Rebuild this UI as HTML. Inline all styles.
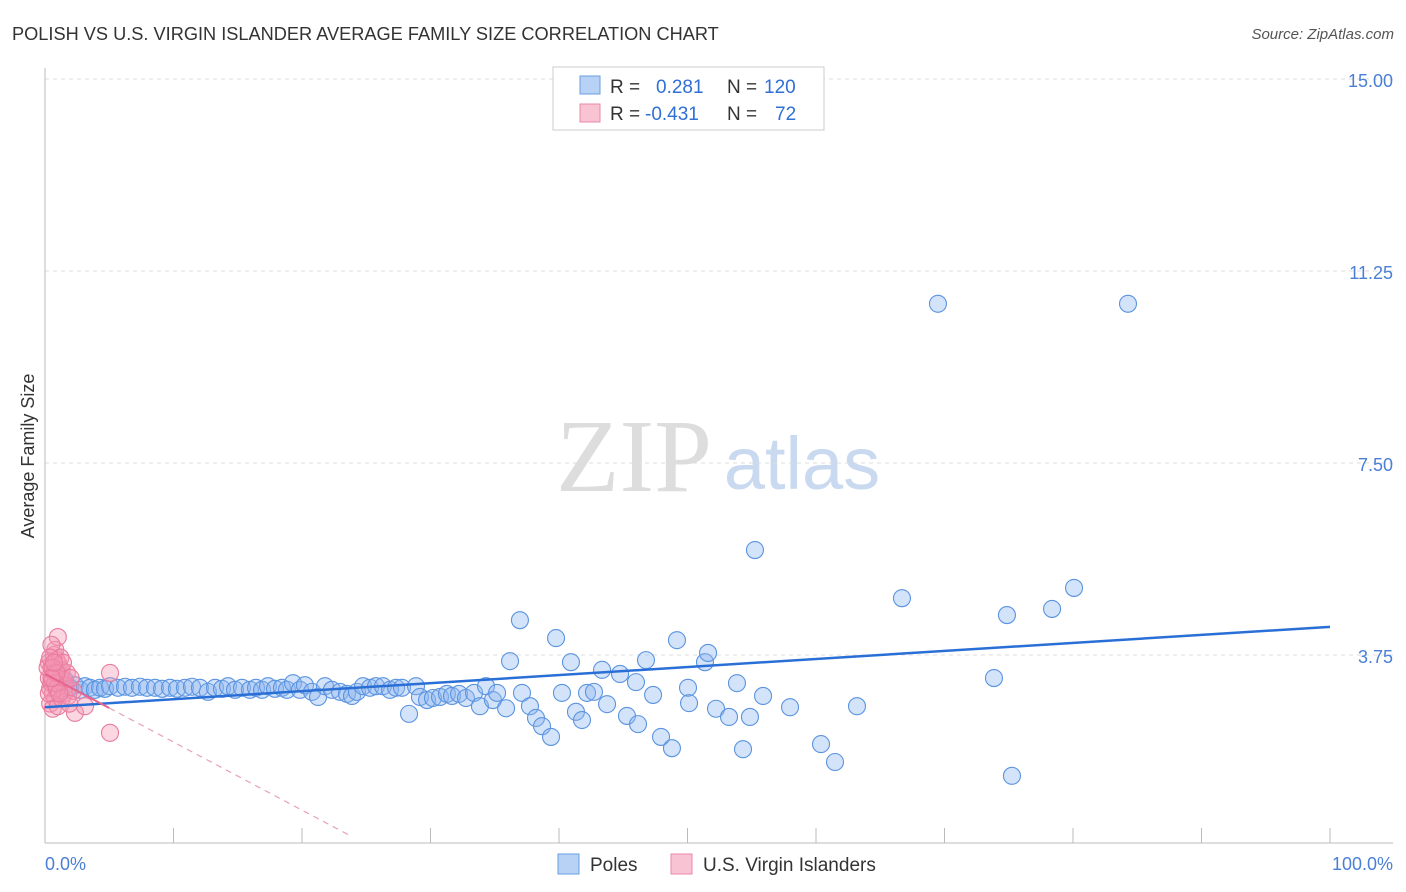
<!DOCTYPE html>
<html><head><meta charset="utf-8">
<style>
body{margin:0;background:#fff;font-family:"Liberation Sans",sans-serif;}
svg{display:block}
</style></head>
<body>
<svg id="chart" width="1406" height="892">
<text x="12" y="40" font-size="18.2" fill="#333">POLISH VS U.S. VIRGIN ISLANDER AVERAGE FAMILY SIZE CORRELATION CHART</text>
<text x="1394" y="39" font-size="15" fill="#555" font-style="italic" text-anchor="end">Source: ZipAtlas.com</text>
<g>
<text x="634" y="491" font-size="104" fill="#ddd" font-family="Liberation Serif,serif" text-anchor="middle">ZIP</text>
<text x="802" y="489" font-size="74" fill="#c8d9f0" text-anchor="middle">atlas</text>
</g>
<g id="grid"></g>
<g id="axes"></g>
<g id="marks"></g>
<text transform="translate(34,456) rotate(-90)" font-size="18" fill="#333" text-anchor="middle">Average Family Size</text>
<text x="45" y="870" font-size="18" fill="#4a7fd6">0.0%</text>
<text x="1393" y="870" font-size="18" fill="#4a7fd6" text-anchor="end">100.0%</text>
<g>
<rect x="553" y="67" width="271" height="63" fill="#fff" stroke="#ccc"/>
<rect x="580" y="76" width="20" height="18" fill="#b8d2f5" stroke="#6a9de0"/>
<rect x="580" y="104" width="20" height="18" fill="#f8c3d2" stroke="#eb8aa8"/>
<text x="610" y="93" font-size="19" fill="#333">R = </text><text x="656" y="93" font-size="19" fill="#2f6fd6">0.281</text>
<text x="727" y="93" font-size="19" fill="#333">N = </text><text x="764" y="93" font-size="19" fill="#2f6fd6">120</text>
<text x="610" y="120" font-size="19" fill="#333">R = </text><text x="645" y="120" font-size="19" fill="#2f6fd6">-0.431</text>
<text x="727" y="120" font-size="19" fill="#333">N = </text><text x="775" y="120" font-size="19" fill="#2f6fd6">72</text>
</g>
<g>
<rect x="558" y="854" width="21" height="20" fill="#b8d2f5" stroke="#6a9de0"/>
<text x="590" y="871" font-size="19" fill="#333">Poles</text>
<rect x="671" y="854" width="21" height="20" fill="#f8c3d2" stroke="#eb8aa8"/>
<text x="703" y="871" font-size="19" fill="#333">U.S. Virgin Islanders</text>
</g>
</svg>
<script>
const yTicks=[3.75,7.50,11.25,15.00];
const yTickLabels=["3.75","7.50","11.25","15.00"];
const xTicks=[0,10,20,30,40,50,60,70,80,90,100];
const polesX=[1.17,1.56,1.95,2.33,2.72,3.11,3.50,3.89,4.28,4.67,5.06,5.68,6.23,6.77,7.39,7.94,8.56,9.11,9.73,10.27,10.89,11.44,12.06,12.68,13.23,13.77,14.24,14.79,15.33,15.95,16.42,16.89,17.35,17.90,18.44,18.83,19.30,19.84,20.23,20.78,21.25,21.79,22.33,22.96,23.50,23.89,24.28,24.75,25.29,25.76,26.30,26.85,27.32,27.78,28.33,28.87,29.18,29.73,30.19,30.74,31.28,31.67,32.22,32.76,33.39,33.85,34.32,34.86,35.18,35.88,36.19,36.96,37.12,37.74,38.21,38.68,39.38,39.77,40.23,40.93,41.32,41.79,42.18,42.72,43.35,43.74,44.75,45.29,45.99,46.15,46.77,47.32,47.94,48.79,49.18,50.04,50.12,51.36,51.60,52.22,53.23,53.85,54.32,54.86,55.25,55.88,57.98,60.39,61.48,63.19,66.69,69.49,73.85,74.86,75.25,78.37,80.08,84.28];
const polesY=[3.36,3.26,3.11,3.16,3.07,3.14,3.11,3.07,3.11,3.09,3.14,3.11,3.13,3.11,3.13,3.11,3.11,3.09,3.11,3.09,3.11,3.13,3.11,3.03,3.11,3.09,3.14,3.07,3.11,3.07,3.11,3.07,3.14,3.09,3.11,3.07,3.20,3.07,3.16,3.03,2.93,3.14,3.07,3.03,2.99,2.95,3.03,3.14,3.11,3.14,3.14,3.07,3.11,3.11,2.60,3.14,2.93,2.87,2.91,2.93,2.99,2.95,2.99,2.91,3.01,2.75,3.14,2.87,3.01,2.71,3.63,4.43,3.01,2.75,2.52,2.36,2.15,4.08,3.01,3.61,2.64,2.48,3.01,3.03,3.46,2.79,3.38,2.56,3.22,2.40,3.65,2.97,2.15,1.93,4.04,3.11,2.81,3.61,3.79,2.70,2.54,3.20,1.91,2.54,5.80,2.95,2.73,2.01,1.66,2.75,4.86,10.61,3.30,4.53,1.39,4.65,5.06,10.61];
const virginX=[0.3,0.5,0.7,0.9,1.1,0.4,0.6,0.8,1.0,1.2,1.4,0.3,0.5,0.7,0.9,1.1,1.3,0.4,0.6,1.0,1.5,1.6,0.8,1.0,0.5,1.2,0.3,0.6,0.9,1.3,1.8,2.2,2.33,3.11,5.06,5.06,1.7,0.2,0.4,1.4,2.0,1.9,0.6,0.8,1.1,0.9,0.5,0.7];
const virginY=[3.6,3.5,3.4,3.3,3.2,3.1,3.0,2.9,3.45,3.35,3.25,3.3,3.2,3.75,3.65,3.55,3.45,2.8,2.7,2.75,3.0,3.15,3.85,4.1,3.95,3.7,3.0,3.3,3.1,2.9,2.95,3.05,2.62,2.75,3.40,2.23,3.4,3.5,3.7,3.6,3.3,2.8,3.5,3.2,3.0,3.4,3.3,3.6];
const polesTrend=[2.73,4.30];
const virginTrend=[3.38,-13.3];
const NS="http://www.w3.org/2000/svg";
const X0=45,X1=1330,Y0=847,PPU=51.2;
const sx=v=>X0+(X1-X0)*v/100;
const sy=v=>Y0-v*PPU;
function mk(tag,attrs,parent){const e=document.createElementNS(NS,tag);for(const k in attrs)e.setAttribute(k,attrs[k]);document.getElementById(parent).appendChild(e);return e;}
yTicks.forEach((t,i)=>{
 const l=mk('line',{x1:X0,x2:1393,y1:sy(t),y2:sy(t),stroke:'#ddd','stroke-dasharray':'4,4'},'grid');
 
 
 const tx=mk('text',{x:1393,y:sy(t)+8,'font-size':18,fill:'#4a7fd6','text-anchor':'end'},'grid');
 tx.textContent=yTickLabels[i];
 
 
});
const ax=mk('line',{x1:X0,x2:X0,y1:68,y2:843,stroke:'#bbb'},'axes');


const bx=mk('line',{x1:X0,x2:1393,y1:843,y2:843,stroke:'#bbb'},'axes');


xTicks.forEach(t=>{
 const l=mk('line',{x1:sx(t),x2:sx(t),y1:828,y2:843,stroke:'#bbb'},'axes');
 
 
});
polesX.forEach((x,i)=>{
 const c=mk('circle',{cx:sx(x),cy:sy(polesY[i]),r:8.5,fill:'rgba(140,182,238,0.38)',stroke:'#5b94e0','stroke-width':1.1},'marks');
 
 
});
virginX.forEach((x,i)=>{
 const c=mk('circle',{cx:sx(x),cy:sy(virginY[i]),r:8.5,fill:'rgba(244,150,180,0.38)',stroke:'#e97b9e','stroke-width':1.1},'marks');
 
 
});
const pl=mk('line',{x1:sx(0),y1:sy(polesTrend[0]),x2:sx(100),y2:sy(polesTrend[1]),stroke:'#2a6fd6','stroke-width':2.5},'marks');


const vy=x=>virginTrend[0]+virginTrend[1]*x/100;
const vs=mk('line',{x1:sx(0),y1:sy(vy(0)),x2:sx(5),y2:sy(vy(5)),stroke:'#e8648f','stroke-width':2},'marks');


const vd=mk('line',{x1:sx(5),y1:sy(vy(5)),x2:sx(23.7),y2:sy(vy(23.7)),stroke:'#e8a0b8','stroke-width':1.2,'stroke-dasharray':'6,5'},'marks');


</script>
</body></html>
